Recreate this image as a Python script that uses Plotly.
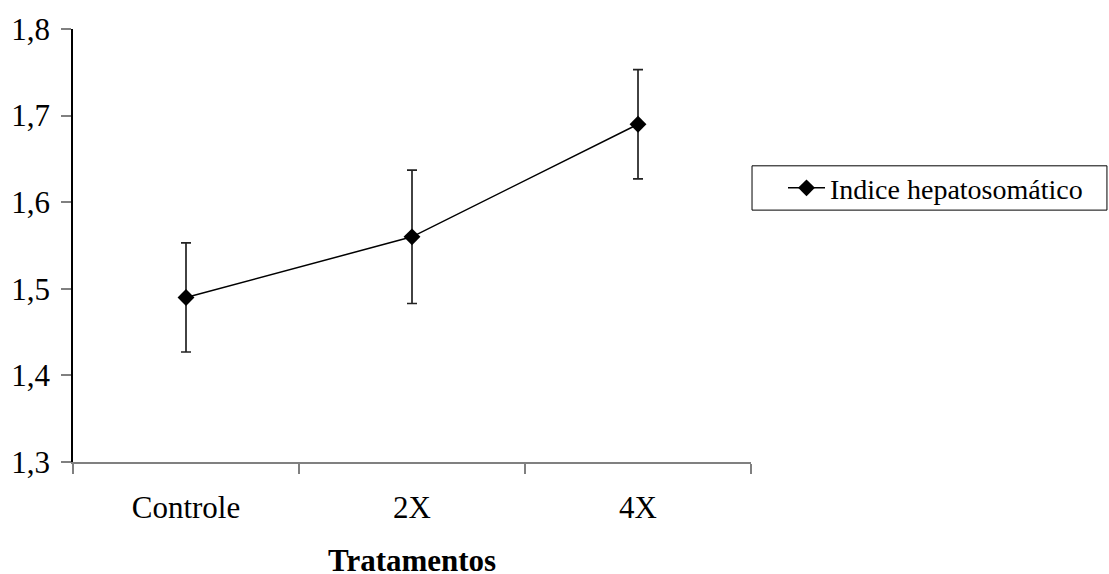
import plotly.graph_objects as go

# Índice hepatossomático por tratamento (média ± erro)
tratamentos = ["Controle", "2X", "4X"]
indice = [1.49, 1.56, 1.69]
erro = [0.063, 0.077, 0.063]
y_ticks = [1.3, 1.4, 1.5, 1.6, 1.7, 1.8]
y_tick_text = ["1,3", "1,4", "1,5", "1,6", "1,7", "1,8"]

FONT = "Liberation Serif, Times New Roman, serif"

fig = go.Figure()
fig.add_trace(go.Scatter(
    x=tratamentos,
    y=indice,
    mode="lines+markers",
    name="Indice hepatosomático",
    line=dict(color="black", width=1.5),
    marker=dict(symbol="diamond", size=13, color="black"),
    error_y=dict(type="data", array=erro, visible=True,
                 color="#222222", thickness=1.7, width=5),
))

# legend frame
fig.add_shape(type="rect", xref="paper", yref="paper",
              x0=1.0015, x1=1.525, y0=0.5817, y1=0.684,
              line=dict(color="black", width=1), fillcolor="rgba(0,0,0,0)")

# x-axis title placed below the category labels
fig.add_annotation(text="<b>Tratamentos</b>", xref="paper", yref="paper",
                   x=0.5, y=-0.2272, xanchor="center", yanchor="middle",
                   showarrow=False, font=dict(family=FONT, size=31, color="black"))

fig.update_layout(
    width=1109, height=574,
    margin=dict(l=73, r=358, t=29, b=112, autoexpand=False),
    paper_bgcolor="white", plot_bgcolor="white",
    font=dict(family=FONT, size=31, color="black"),
    showlegend=True,
    legend=dict(
        x=1.0472, xanchor="left", y=0.6325, yanchor="middle",
        borderwidth=0, bgcolor="rgba(0,0,0,0)",
        font=dict(family=FONT, size=28, color="black"),
        itemwidth=37,
    ),
    xaxis=dict(
        type="category",
        range=[-0.5, 2.5],
        automargin=False,
        showline=True, linecolor="#808080", linewidth=2,
        ticks="outside", tickson="boundaries", ticklen=10,
        tickcolor="#808080", tickwidth=2,
        showgrid=False, zeroline=False,
        tickfont=dict(family=FONT, size=31),
        ticklabelstandoff=17,
    ),
    yaxis=dict(
        range=[1.3, 1.8],
        automargin=False,
        tickvals=y_ticks, ticktext=y_tick_text,
        showline=True, linecolor="black", linewidth=1.5,
        ticks="outside", ticklen=10, tickcolor="#808080", tickwidth=1.5,
        showgrid=False, zeroline=False,
        tickfont=dict(family=FONT, size=31),
        ticklabelstandoff=5,
    ),
)

fig.write_html("out.html")
